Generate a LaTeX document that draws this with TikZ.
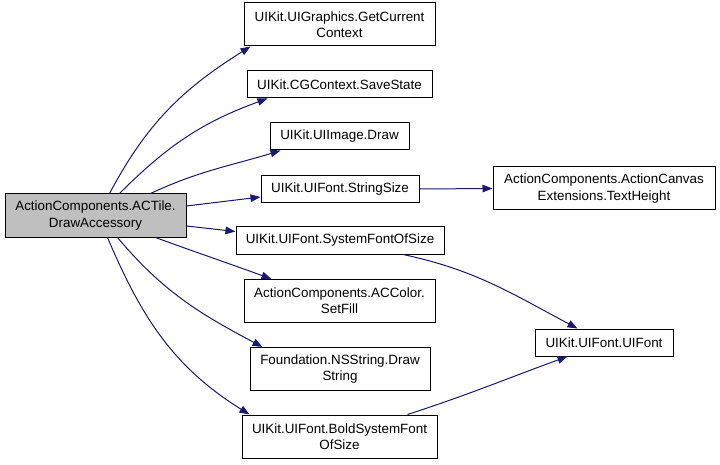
\documentclass[tikz,border=0pt]{standalone}
\usepackage{fontspec}
\setmainfont{Liberation Sans}
\usetikzlibrary{positioning,arrows.meta}
\definecolor{edgecol}{RGB}{25,25,112}
\definecolor{maincol}{RGB}{191,191,191}
\begin{document}
\begin{tikzpicture}[
  x=1pt,y=-1pt,
  fbox/.style={rectangle,draw=black,fill=white,line width=1pt,
               font=\fontsize{13.4}{16.3}\selectfont,align=center,
               inner sep=2pt,minimum height=#1},
  fbox/.default=27pt,
  call/.style={-{Triangle[length=10pt,width=7.5pt]},line width=1pt,edgecol}
]
\useasboundingbox (0,0) rectangle (720,465);
% caller
\node[fbox=43pt,fill=maincol,minimum width=181pt] (tile) at (95.5,215.5)
  {ActionComponents.ACTile.\\DrawAccessory};
% callees
\node[fbox=43pt,minimum width=191pt] (ctx) at (339.5,24.5)
  {UIKit.UIGraphics.GetCurrent\\Context};
\node[fbox,minimum width=185pt] (save) at (339.5,84.5) {UIKit.CGContext.SaveState};
\node[fbox,minimum width=139pt] (img) at (339.5,136.5) {UIKit.UIImage.Draw};
\node[fbox,minimum width=158pt] (strsize) at (340,189) {UIKit.UIFont.StringSize};
\node[fbox,minimum width=208pt] (sysfont) at (340,240.5) {UIKit.UIFont.SystemFontOfSize};
\node[fbox=43pt,minimum width=191pt] (setfill) at (339.5,301)
  {ActionComponents.ACColor.\\SetFill};
\node[fbox=43pt,minimum width=180pt] (drawstr) at (340,369)
  {Foundation.NSString.Draw\\String};
\node[fbox=43pt,minimum width=195pt] (bold) at (339.5,436.5)
  {UIKit.UIFont.BoldSystemFont\\OfSize};
\node[fbox=43pt,minimum width=222pt] (txth) at (604,188.5)
  {ActionComponents.ActionCanvas\\Extensions.TextHeight};
\node[fbox,minimum width=138pt] (uifont) at (604,342.5) {UIKit.UIFont.UIFont};
% calls
\draw[call] ([xshift=14pt]tile.north) to[out=62,in=212] ([xshift=7pt]ctx.south west);
\draw[call] ([xshift=24pt]tile.north) to[out=45,in=200] ([xshift=21pt]save.south west);
\draw[call] ([xshift=55pt]tile.north) to[out=25,in=197] ([xshift=11pt]img.south west);
\draw[call] ([yshift=9.5pt]tile.east) -- ([yshift=-8pt]strsize.west);
\draw[call] ([yshift=-10.5pt]tile.east) -- ([yshift=9pt]sysfont.west);
\draw[call] ([xshift=60pt]tile.south) to[out=-20,in=160] ([xshift=28pt]setfill.north west);
\draw[call] ([xshift=22pt]tile.south) to[out=-50,in=152] ([xshift=13pt]drawstr.north west);
\draw[call] ([xshift=12pt]tile.south) to[out=-67,in=148] ([xshift=8pt]bold.north west);
\draw[call] (strsize.east) -- (txth.west);
\draw[call] ([xshift=63pt]sysfont.south) to[out=-12,in=152] ([xshift=43pt]uifont.north west);
\draw[call] ([xshift=68pt]bold.north) to[out=18,in=200] ([xshift=33pt]uifont.south west);
\end{tikzpicture}
\end{document}
